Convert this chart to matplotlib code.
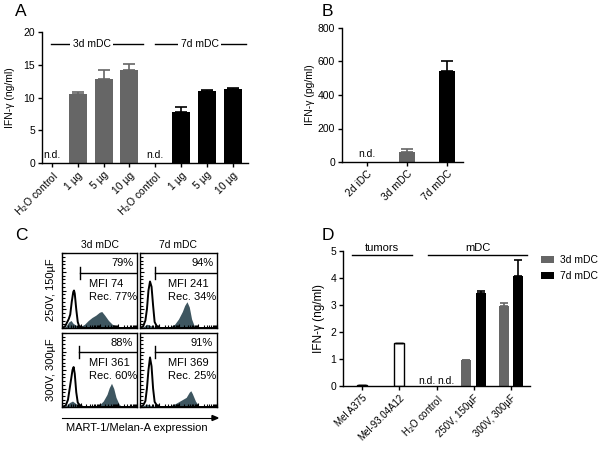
import numpy as np
import matplotlib
matplotlib.use("Agg")
from matplotlib import pyplot as plt

plt.rcParams['font.family'] = ['Liberation Sans', 'DejaVu Sans']
plt.rcParams['font.size'] = 7.5
plt.rcParams['axes.linewidth'] = 1.0
plt.rcParams['xtick.major.size'] = 3
plt.rcParams['ytick.major.size'] = 3

GRAY = '#666666'
FILL = '#3e5660'

# panel A
a_labels = ['H$_2$O control', '1 µg', '5 µg', '10 µg',
            'H$_2$O control', '1 µg', '5 µg', '10 µg']
a_vals = [0, 10.6, 12.9, 14.2, 0, 7.8, 11.0, 11.3]
a_err = [0, 0.2, 1.3, 0.9, 0, 0.8, 0.2, 0.1]
a_cols = [GRAY] * 4 + ['black'] * 4

# panel B
b_labels = ['2d iDC', '3d mDC', '7d mDC']
b_vals = [0, 60, 545]
b_err = [0, 15, 55]
b_cols = [GRAY, GRAY, 'black']

# panel D
d_labels = ['Mel A375', 'Mel-93.04A12', 'H$_2$O control', '250V, 150µF', '300V, 300µF']
d_tumor = [0.02, 1.58]
d_tumor_err = [0.02, 0.03]
d_3d = [0, 0.95, 2.98]
d_3d_err = [0, 0.01, 0.08]
d_7d = [0, 3.45, 4.08]
d_7d_err = [0, 0.08, 0.58]

# panel C histograms (x: fraction of log scale, y: relative count)
tl_open_x = [0, 0.04, 0.07, 0.09, 0.11, 0.13, 0.15, 0.16, 0.17, 0.19, 0.21, 0.23, 0.26, 0.30, 1.0]
tl_open_y = [0, 0.02, 0.08, 0.12, 0.18, 0.35, 0.48, 0.50, 0.46, 0.25, 0.08, 0.02, 0.01, 0, 0]
tl_fill_x = [0, 0.05, 0.09, 0.12, 0.15, 0.2, 0.25, 0.3, 0.35, 0.4, 0.45, 0.5, 0.53, 0.57, 0.62, 0.67, 0.72, 0.78, 0.85, 1]
tl_fill_y = [0, 0.02, 0.08, 0.10, 0.06, 0.03, 0.02, 0.05, 0.10, 0.14, 0.17, 0.21, 0.22, 0.17, 0.10, 0.05, 0.03, 0.01, 0, 0]
tr_open_x = [0, 0.04, 0.07, 0.09, 0.11, 0.13, 0.15, 0.17, 0.19, 0.22, 0.26, 1]
tr_open_y = [0, 0.02, 0.10, 0.25, 0.50, 0.62, 0.55, 0.30, 0.08, 0.02, 0, 0]
tr_fill_x = [0, 0.05, 0.09, 0.12, 0.16, 0.2, 0.3, 0.4, 0.45, 0.5, 0.55, 0.58, 0.61, 0.64, 0.67, 0.7, 0.73, 0.8, 1]
tr_fill_y = [0, 0.02, 0.05, 0.04, 0.02, 0.01, 0.01, 0.02, 0.05, 0.12, 0.22, 0.30, 0.35, 0.28, 0.12, 0.04, 0.01, 0, 0]
bl_open_x = [0, 0.05, 0.08, 0.11, 0.14, 0.155, 0.17, 0.19, 0.21, 0.24, 0.28, 1]
bl_open_y = [0, 0.02, 0.10, 0.30, 0.50, 0.54, 0.45, 0.20, 0.06, 0.02, 0, 0]
bl_fill_x = [0, 0.06, 0.1, 0.14, 0.18, 0.22, 0.3, 0.4, 0.5, 0.55, 0.6, 0.63, 0.66, 0.69, 0.72, 0.76, 0.8, 1]
bl_fill_y = [0, 0.02, 0.06, 0.08, 0.05, 0.02, 0.01, 0.01, 0.03, 0.08, 0.17, 0.26, 0.32, 0.25, 0.13, 0.04, 0, 0]
br_open_x = [0, 0.04, 0.07, 0.09, 0.11, 0.13, 0.15, 0.17, 0.19, 0.22, 0.26, 1]
br_open_y = [0, 0.02, 0.08, 0.25, 0.50, 0.67, 0.55, 0.25, 0.07, 0.02, 0, 0]
br_fill_x = [0, 0.05, 0.09, 0.12, 0.16, 0.22, 0.3, 0.4, 0.45, 0.5, 0.55, 0.6, 0.64, 0.66, 0.68, 0.72, 0.76, 0.8, 1]
br_fill_y = [0, 0.02, 0.04, 0.03, 0.01, 0.01, 0.01, 0.02, 0.04, 0.07, 0.10, 0.13, 0.20, 0.22, 0.18, 0.08, 0.02, 0, 0]
c_pct = ['79%', '94%', '88%', '91%']
c_mfi = ['MFI 74', 'MFI 241', 'MFI 361', 'MFI 369']
c_rec = ['Rec. 77%', 'Rec. 34%', 'Rec. 60%', 'Rec. 25%']
c_gate = [0.24, 0.20, 0.23, 0.20]


def box(l, t, r, b):
    return [l / 600, 1 - b / 470, (r - l) / 600, (b - t) / 470]


def style(ax):
    ax.spines['top'].set_visible(False)
    ax.spines['right'].set_visible(False)
    ax.tick_params(length=3, width=1, pad=2)


fig = plt.figure(figsize=(6, 4.7), dpi=100)

# ---- A
ax = fig.add_axes(box(42, 32, 248, 163))
xa = np.arange(len(a_vals))
ax.bar(xa, a_vals, 0.7, color=a_cols)
for i in range(len(a_vals)):
    if a_vals[i] > 0:
        ax.errorbar(xa[i], a_vals[i], yerr=[[0], [a_err[i]]], color=a_cols[i],
                    capsize=4, elinewidth=1.2, capthick=1.2)
    else:
        ax.text(xa[i], 0.4, 'n.d.', ha='center', va='bottom')
ax.set_xlim(-0.39, 7.6)
ax.set_ylim(0, 20)
ax.set_yticks([0, 5, 10, 15, 20])
ax.set_xticks(xa)
ax.set_xticklabels(a_labels, rotation=45, ha='right', rotation_mode='anchor')
ax.set_ylabel('IFN-γ (ng/ml)')
ax.yaxis.set_label_coords(-0.13, 0.5)
style(ax)
for (x0, x1, xt, lab) in [(-0.05, 3.53, 1.53, '3d mDC'), (3.99, 7.52, 5.72, '7d mDC')]:
    ax.plot([x0, x1], [18.2, 18.2], color='black', lw=1)
    ax.text(xt, 18.2, lab, ha='center', va='center',
            bbox=dict(facecolor='white', edgecolor='none', pad=1.5))
fig.text(15 / 600, 1 - 11 / 470, 'A', fontsize=12.5, va='center')

# ---- B
ax = fig.add_axes(box(342, 28, 463, 162))
xb = np.arange(len(b_vals))
ax.bar(xb, b_vals, 0.4, color=b_cols)
for i in range(len(b_vals)):
    if b_vals[i] > 0:
        ax.errorbar(xb[i], b_vals[i], yerr=[[0], [b_err[i]]], color=b_cols[i],
                    capsize=4, elinewidth=1.2, capthick=1.2)
    else:
        ax.text(xb[i], 15, 'n.d.', ha='center', va='bottom')
ax.set_xlim(-0.62, 2.4)
ax.set_ylim(0, 800)
ax.set_yticks([0, 200, 400, 600, 800])
ax.set_xticks(xb)
ax.set_xticklabels(b_labels, rotation=45, ha='right', rotation_mode='anchor')
ax.set_ylabel('IFN-γ (pg/ml)')
ax.yaxis.set_label_coords(-0.22, 0.5)
style(ax)
fig.text(322 / 600, 1 - 11 / 470, 'B', fontsize=12.5, va='center')

# ---- C
fig.text(15 / 600, 1 - 236 / 470, 'C', fontsize=12.5, va='center')
c_boxes = [box(62, 253, 137, 328), box(140, 253, 217, 328),
           box(62, 333, 137, 407), box(140, 333, 217, 407)]
c_hist = [(tl_open_x, tl_open_y, tl_fill_x, tl_fill_y),
          (tr_open_x, tr_open_y, tr_fill_x, tr_fill_y),
          (bl_open_x, bl_open_y, bl_fill_x, bl_fill_y),
          (br_open_x, br_open_y, br_fill_x, br_fill_y)]
minor = [0.25 * d + 0.25 * np.log10(k) for d in range(4) for k in range(2, 10)]
for k in range(4):
    ax = fig.add_axes(c_boxes[k])
    ox, oy, fx, fy = c_hist[k]
    ax.plot(ox, oy, color='black', lw=1.4)
    ax.fill_between(fx, fy, color=FILL, lw=0)
    g = c_gate[k]
    ax.plot([g, 1], [0.74, 0.74], color='black', lw=1)
    ax.plot([g, g], [0.66, 0.82], color='black', lw=1)
    ax.text(0.95, 0.87, c_pct[k], ha='right', va='center', fontsize=8)
    ax.text(0.36, 0.59, c_mfi[k], ha='left', va='center', fontsize=8)
    ax.text(0.36, 0.42, c_rec[k], ha='left', va='center', fontsize=8)
    ax.set_xlim(0, 1)
    ax.set_ylim(0, 1)
    ax.set_xticks([0, 0.25, 0.5, 0.75, 1])
    ax.set_xticks(minor, minor=True)
    ax.set_yticks([0, 0.25, 0.5, 0.75, 1])
    ax.set_yticks(np.arange(0, 1, 0.05), minor=True)
    ax.tick_params(which='both', direction='in', length=2, width=0.8,
                   labelbottom=False, labelleft=False)
    ax.tick_params(which='major', length=3)
fig.text(100 / 600, 1 - 245 / 470, '3d mDC', ha='center', va='center')
fig.text(178 / 600, 1 - 245 / 470, '7d mDC', ha='center', va='center')
fig.text(51 / 600, 1 - 290 / 470, '250V, 150µF', rotation=90, ha='center', va='center', fontsize=8)
fig.text(51 / 600, 1 - 370 / 470, '300V, 300µF', rotation=90, ha='center', va='center', fontsize=8)
fig.add_artist(plt.Line2D([62 / 600, 212 / 600], [1 - 418 / 470, 1 - 418 / 470],
                          color='black', lw=0.8))
fig.patches.append(plt.Polygon([[212 / 600, 1 - 415.5 / 470], [218 / 600, 1 - 418 / 470],
                                [212 / 600, 1 - 420.5 / 470]], closed=True,
                               color='black', transform=fig.transFigure))
fig.text(137 / 600, 1 - 428 / 470, 'MART-1/Melan-A expression', ha='center', va='center', fontsize=8)

# ---- D
ax = fig.add_axes(box(343, 251, 530, 386))
w = 0.27
ax.bar([0, 1], d_tumor, w, color='white', edgecolor='black', lw=1)
ax.errorbar([0, 1], d_tumor, yerr=[[0, 0], d_tumor_err], fmt='none', ecolor='black',
            capsize=3, elinewidth=1, capthick=1)
xg = np.array([2, 3, 4])
ax.bar(xg - 0.2, d_3d, w, color=GRAY, label='3d mDC')
ax.bar(xg + 0.2, d_7d, w, color='black', label='7d mDC')
ax.errorbar(xg[1:] - 0.2, d_3d[1:], yerr=[[0, 0], d_3d_err[1:]], fmt='none', ecolor=GRAY,
            capsize=3, elinewidth=1.2, capthick=1.2)
ax.errorbar(xg[1:] + 0.2, d_7d[1:], yerr=[[0, 0], d_7d_err[1:]], fmt='none', ecolor='black',
            capsize=3, elinewidth=1.2, capthick=1.2)
ax.text(2 - 0.25, 0.0, 'n.d.', ha='center', va='bottom')
ax.text(2 + 0.25, 0.0, 'n.d.', ha='center', va='bottom')
ax.set_xlim(-0.51, 4.51)
ax.set_ylim(0, 5)
ax.set_xticks(np.arange(5))
ax.set_xticklabels(d_labels, rotation=45, ha='right', rotation_mode='anchor', fontsize=7)
ax.set_ylabel('IFN-γ (ng/ml)', fontsize=8.5)
ax.yaxis.set_label_coords(-0.095, 0.5)
style(ax)
ax.plot([-0.27, 1.34], [4.85, 4.85], color='black', lw=1, clip_on=False)
ax.plot([1.77, 4.43], [4.85, 4.85], color='black', lw=1, clip_on=False)
ax.text(0.54, 4.92, 'tumors', ha='center', va='bottom', fontsize=8)
ax.text(3.1, 4.92, 'mDC', ha='center', va='bottom', fontsize=8)
ax.legend(loc='upper left', bbox_to_anchor=(541 / 600, 1 - 255 / 470),
          bbox_transform=fig.transFigure, frameon=False, fontsize=7.5,
          handlelength=1.2, handleheight=0.6, handletextpad=0.6, labelspacing=0.6,
          borderaxespad=0, borderpad=0)
fig.text(322 / 600, 1 - 236 / 470, 'D', fontsize=12.5, va='center')

fig.savefig('out.png', dpi=100)
